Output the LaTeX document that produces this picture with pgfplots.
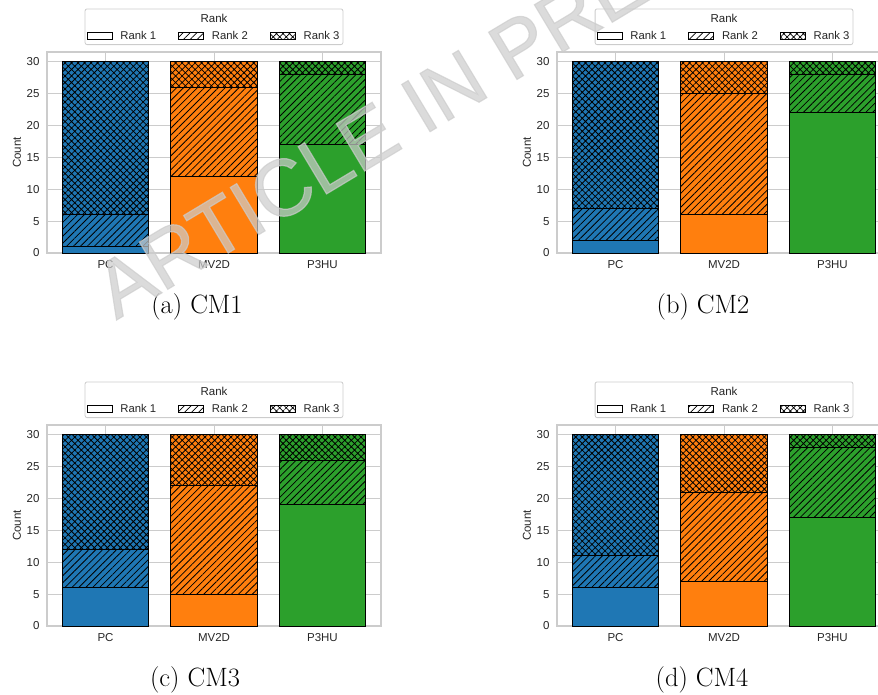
\documentclass[border=0pt]{standalone}
\usepackage{fontspec}
\usepackage{pgfplots}
\pgfplotsset{compat=1.18}
\usetikzlibrary{patterns.meta}

\newfontfamily\axisfont{Liberation Sans}
\newfontfamily\markfont[FakeBold=1.5]{Liberation Sans}

\definecolor{tabblue}{HTML}{1F77B4}
\definecolor{taborange}{HTML}{FF7F0E}
\definecolor{tabgreen}{HTML}{2CA02C}
\definecolor{gridgray}{HTML}{CCCCCC}
\definecolor{labelgray}{HTML}{262626}

\pgfplotsset{
  rone/.style={draw=black, line width=0.9pt},
  rtwo/.style={draw=black, line width=0.9pt,
    postaction={pattern={Lines[angle=45,distance=4.9pt,line width=0.8pt]}}},
  rthree/.style={draw=black, line width=0.9pt,
    postaction={pattern={Hatch[angle=45,distance=4.6pt,line width=0.8pt]}}},
  swatch/.style={legend image code/.code={\draw[sharp corners,##1] (0pt,-3.6pt) rectangle (25pt,3.6pt);}},
  rankaxis/.style={
    scale only axis, width=334pt, height=201pt, anchor=south west,
    xmin=-0.54, xmax=2.54, ymin=0, ymax=31.5,
    ybar stacked, bar width=0.8,
    xtick={0,1,2}, xticklabels={PC,MV2D,P3HU},
    ytick={0,5,10,15,20,25,30},
    xmajorgrids, ymajorgrids,
    grid style={draw=gridgray, line width=0.9pt},
    axis line style={draw=gridgray, line width=1.1pt},
    major tick length=0pt,
    /pgf/number format/assume math mode=true,
    tick label style={font=\axisfont\fontsize{11.5}{13}\selectfont, text=labelgray},
    xticklabel style={yshift=-4pt},
    yticklabel style={xshift=-4pt},
    ylabel={Count},
    ylabel style={font=\axisfont\fontsize{11.5}{13}\selectfont, text=labelgray,
      at={(axis description cs:-0.0898,0.5)}, anchor=center},
    legend columns=3,
    legend style={
      at={(axis description cs:0.5,1)}, anchor=south, yshift=7pt,
      draw=gridgray, line width=0.8pt, rounded corners=2pt, fill=white,
      font=\axisfont\fontsize{11.3}{12}\selectfont, text=labelgray,
      inner xsep=1.5pt, inner ysep=2pt,
      /tikz/every odd column/.append style={column sep=6pt},
      /tikz/every even column/.append style={column sep=20pt},
      label={[anchor=north, inner sep=0pt, yshift=-5pt, draw=none, fill=none,
        font=\axisfont\fontsize{11.5}{12}\selectfont, text=labelgray]north:Rank},
    },
  },
}

% legend: a title row (filled by the label) and one swatch per rank
\newcommand{\ranklegend}{%
  \addlegendimage{empty legend}\addlegendentry{\rule{0pt}{12.5pt}}
  \addlegendimage{empty legend}\addlegendentry{\rule{0pt}{12.5pt}}
  \addlegendimage{empty legend}\addlegendentry{\rule{0pt}{12.5pt}}
  \addlegendimage{swatch, fill=white, draw=black, line width=0.8pt}
  \addlegendentry{Rank 1}
  \addlegendimage{swatch, fill=white, draw=black, line width=0.8pt,
    postaction={pattern={Lines[angle=45,distance=4.9pt,line width=0.7pt]}}}
  \addlegendentry{Rank 2}
  \addlegendimage{swatch, fill=white, draw=black, line width=0.8pt,
    postaction={pattern={Hatch[angle=45,distance=4.6pt,line width=0.7pt]}}}
  \addlegendentry{Rank 3}
}

% stacked counts: PC (rank 1,2,3), MV2D (rank 1,2,3), P3HU (rank 1,2,3)
\newcommand{\rankbars}[9]{%
  \addplot[rone,   fill=tabblue]   coordinates {(0,#1) (1,0) (2,0)};
  \addplot[rtwo,   fill=tabblue]   coordinates {(0,#2) (1,0) (2,0)};
  \addplot[rthree, fill=tabblue]   coordinates {(0,#3) (1,0) (2,0)};
  \addplot[rone,   fill=taborange] coordinates {(0,0) (1,#4) (2,0)};
  \addplot[rtwo,   fill=taborange] coordinates {(0,0) (1,#5) (2,0)};
  \addplot[rthree, fill=taborange] coordinates {(0,0) (1,#6) (2,0)};
  \addplot[rone,   fill=tabgreen]  coordinates {(0,0) (1,0) (2,#7)};
  \addplot[rtwo,   fill=tabgreen]  coordinates {(0,0) (1,0) (2,#8)};
  \addplot[rthree, fill=tabgreen]  coordinates {(0,0) (1,0) (2,#9)};
}

\begin{document}
\begin{tikzpicture}
\useasboundingbox (0pt,0pt) rectangle (878pt,-694pt);

\begin{axis}[rankaxis, at={(47pt,-253pt)}]
  \ranklegend
  \rankbars{1}{5}{24}{12}{14}{4}{17}{11}{2}
\end{axis}

\begin{axis}[rankaxis, at={(557pt,-253pt)}]
  \ranklegend
  \rankbars{2}{5}{23}{6}{19}{5}{22}{6}{2}
\end{axis}

\begin{axis}[rankaxis, at={(47pt,-626pt)}]
  \ranklegend
  \rankbars{6}{6}{18}{5}{17}{8}{19}{7}{4}
\end{axis}

\begin{axis}[rankaxis, at={(557pt,-626pt)}]
  \ranklegend
  \rankbars{6}{5}{19}{7}{14}{9}{17}{11}{2}
\end{axis}

\begin{scope}[every node/.style={font=\fontsize{26.5}{31}\selectfont}]
  \node at (197pt,-307pt) {(a) CM1};
  \node at (703pt,-307pt) {(b) CM2};
  \node at (195pt,-680pt) {(c) CM3};
  \node at (702pt,-680pt) {(d) CM4};
\end{scope}

\node[rotate=31, font=\markfont\fontsize{80}{84}\selectfont,
      text=gray!40, text opacity=0.7] at (416pt,-108pt) {ARTICLE IN PRESS};
\end{tikzpicture}
\end{document}
